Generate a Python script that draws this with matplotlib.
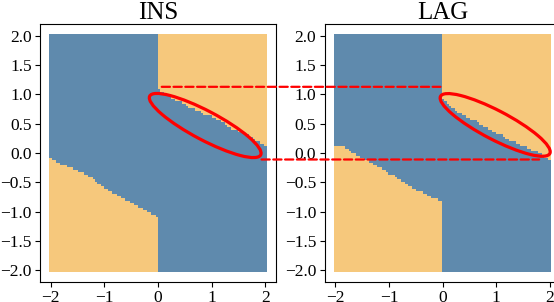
import numpy as np
import matplotlib.pyplot as plt
from matplotlib.patches import Ellipse, ConnectionPatch

plt.rcParams["font.family"] = ["Liberation Serif", "DejaVu Serif"]

titles = ["INS", "LAG"]

# граница решения: x < 0 -> оранжевый ниже кривой, x > 0 -> оранжевый выше
low_x = [-2.0, -1.875, -1.75, -1.625, -1.5, -1.375, -1.25, -1.125, -1.0,
         -0.875, -0.75, -0.625, -0.5, -0.375, -0.25, -0.125, 0.0]
ins_low_y = [-0.08, -0.16, -0.20, -0.24, -0.31, -0.33, -0.41, -0.50, -0.59,
             -0.64, -0.73, -0.78, -0.85, -0.90, -0.96, -1.02, -1.09]
lag_low_y = [0.13, 0.12, 0.06, -0.02, -0.08, -0.13, -0.20, -0.26, -0.34,
             -0.40, -0.48, -0.55, -0.62, -0.67, -0.73, -0.78, -0.82]

up_x = [0.0, 0.125, 0.25, 0.375, 0.5, 0.625, 0.75, 0.875, 1.0,
        1.125, 1.25, 1.375, 1.5, 1.625, 1.75, 1.875, 2.0]
ins_up_y = [1.10, 1.02, 0.95, 0.89, 0.84, 0.76, 0.74, 0.66, 0.63,
            0.56, 0.50, 0.42, 0.39, 0.33, 0.28, 0.19, 0.14]
lag_up_y = [0.97, 0.82, 0.74, 0.66, 0.60, 0.55, 0.47, 0.41, 0.34,
            0.30, 0.23, 0.18, 0.13, 0.08, 0.03, -0.04, -0.13]

# эллипсы: центр, ширина, высота, угол
ins_ell = ((0.88, 0.47), 2.3, 0.5, -25.7)
lag_ell = ((0.98, 0.48), 2.26, 0.5, -25.4)

blue = "#5f8aad"
orange = "#f6c87c"

g = np.linspace(-2, 2, 100)
gx, gy = np.meshgrid(g, g)
gx = gx.ravel()
gy = gy.ravel()

fig = plt.figure(figsize=(5.54, 3.02), dpi=100)
ax1 = fig.add_axes([0.0722, 0.0662, 0.426, 0.854])
ax2 = fig.add_axes([0.586, 0.0662, 0.426, 0.854])

panels = [
    (ax1, ins_low_y, ins_up_y, ins_ell),
    (ax2, lag_low_y, lag_up_y, lag_ell),
]

for (ax, low_y, up_y, ell), title in zip(panels, titles):
    low = np.interp(gx, low_x, low_y)
    up = np.interp(gx, up_x, up_y)
    is_orange = np.where(gx < 0, gy < low, gy > up)
    colors = np.where(is_orange, orange, blue)
    ax.scatter(gx, gy, c=colors, s=4, marker="s", linewidths=0)

    ax.add_patch(Ellipse(ell[0], ell[1], ell[2], angle=ell[3],
                         fill=False, edgecolor="red", lw=2.3))

    ax.set_xticks([-2, -1, 0, 1, 2])
    ax.set_yticks(np.arange(-2, 2.01, 0.5))
    ax.yaxis.set_major_formatter("{x:.1f}")
    ax.tick_params(labelsize=12.5, pad=2.5)
    ax.set_title(title, fontsize=18, pad=4)

# пунктирные линии между панелями
for (xa, ya), (xb, yb) in [((0.07, 1.13), (-0.04, 1.13)),
                           ((1.93, -0.11), (1.8, -0.11))]:
    con = ConnectionPatch(xyA=(xa, ya), coordsA=ax1.transData,
                          xyB=(xb, yb), coordsB=ax2.transData,
                          color="red", lw=1.6, ls="--")
    fig.add_artist(con)

fig.savefig("out.png", dpi=100)
